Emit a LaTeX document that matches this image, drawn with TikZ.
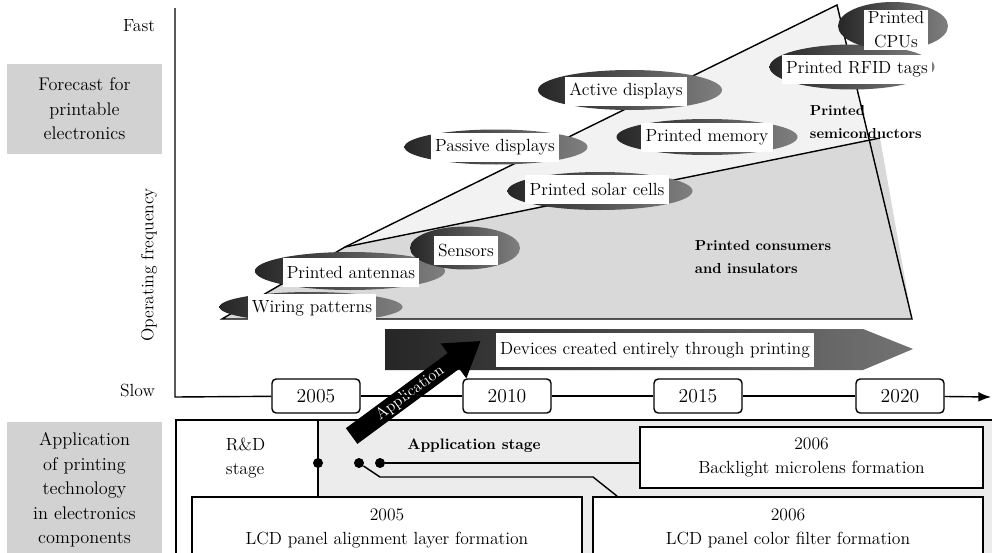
\documentclass[tikz,border=0pt]{standalone}
\usepackage{tikz}
\usetikzlibrary{shapes,arrows,arrows.meta,positioning,calc}
\newcommand{\pxu}{0.025cm}
\tikzstyle{every node}=[font=\fontsize{12.5}{17}\selectfont]
\tikzstyle{blob} = [ellipse, left color=black!85, right color=black!50, inner sep=0pt]
\tikzstyle{txtbox} = [rectangle, fill=white, inner xsep=3pt, inner ysep=2pt, minimum height=29*\pxu]
\tikzstyle{yearbox} = [rectangle, draw, line width=1pt, rounded corners=3pt, fill=white,
    minimum width=88*\pxu, minimum height=34*\pxu, font=\fontsize{14}{17}\selectfont]
\tikzstyle{sidebox} = [rectangle, fill=gray!35, align=center, minimum width=155*\pxu,
    font=\fontsize{13}{17.5}\selectfont]
\tikzstyle{usebox} = [rectangle, draw, line width=1pt, fill=white, align=center]
\tikzstyle{joint} = [circle, fill=black, inner sep=0pt, minimum size=10*\pxu]
\tikzstyle{heavy} = [font=\bfseries\fontsize{10.3}{17}\selectfont, align=left, anchor=west]
\tikzstyle{line} = [draw, line width=1pt, -{Latex[length=9pt,width=7pt]}]

\begin{document}
\begin{tikzpicture}[x=0.025cm, y=-0.025cm]
	\useasboundingbox (0,0) rectangle (992,552);
	\clip (0,0) rectangle (992,552);
	% Forecast area
	\fill [gray!10] (222,319) -- (345,247) -- (837,5) -- (912,319) -- cycle;
	\fill [gray!30] (345,247) -- (880,138) -- (912,319) -- (222,319) -- cycle;
	\draw [line width=1pt] (222,319) -- (345,247) -- (837,5) -- (912,319) -- cycle;
	\draw [line width=1pt] (345,247) -- (880,138);

	% Place nodes
	\node [blob, minimum width=165*\pxu, minimum height=45*\pxu] (rfid-e) at (852,67) {};
	\node [blob, minimum width=110*\pxu, minimum height=48*\pxu] (cpu-e) at (893,26) {};
	\node [txtbox, align=center, inner ysep=1pt] (cpu) at (896,30) {Printed\\CPUs};
	\node [txtbox] (rfid) at (857,69) {Printed RFID tags};
	\node [blob, minimum width=184*\pxu, minimum height=40*\pxu] (active-e) at (630,90) {};
	\node [txtbox] (active) at (626,91) {Active displays};
	\node [blob, minimum width=183*\pxu, minimum height=35*\pxu] (passive-e) at (496,147) {};
	\node [txtbox] (passive) at (495,147) {Passive displays};
	\node [blob, minimum width=181*\pxu, minimum height=36*\pxu] (memory-e) at (707,137) {};
	\node [txtbox] (memory) at (707,137) {Printed memory};
	\node [blob, minimum width=185*\pxu, minimum height=38*\pxu] (solar-e) at (600,191) {};
	\node [txtbox] (solar) at (597,189) {Printed solar cells};
	\node [blob, minimum width=190*\pxu, minimum height=38*\pxu] (antenna-e) at (350,271) {};
	\node [blob, minimum width=110*\pxu, minimum height=43*\pxu] (sensor-e) at (465,248) {};
	\node [txtbox] (sensor) at (466,250) {Sensors};
	\node [txtbox] (antenna) at (351,272) {Printed antennas};
	\node [blob, minimum width=183*\pxu, minimum height=30*\pxu] (wiring-e) at (311,307) {};
	\node [txtbox] (wiring) at (312,308) {Wiring patterns};

	\node [heavy] (semi) at (805,122) {Printed\\semiconductors};
	\node [heavy] (cons) at (690,257) {Printed consumers\\and insulators};

	% Devices band
	\shade [left color=black!85, right color=black!55] (385,329) -- (863,329) -- (913,349) -- (863,370) -- (385,370) -- cycle;
	\node [txtbox, minimum width=316*\pxu, minimum height=34*\pxu] (devices) at (655,350) {Devices created entirely through printing};

	% Axes and timeline
	\coordinate (ytop) at (175,8);
	\coordinate (origin) at (175,397);
	\coordinate (xend) at (991,397);
	\node [anchor=east] (fast) at (160,26) {Fast};
	\node [anchor=east] (slow) at (160,390) {Slow};
	\node [rotate=90] (freq) at (149,265) {Operating frequency};
	\node [sidebox, minimum height=90*\pxu] (forecast) at (84.5,109) {Forecast for\\printable\\electronics};

	\node [yearbox] (y2005) at (316,396) {2005};
	\node [yearbox] (y2010) at (507,396) {2010};
	\node [yearbox] (y2015) at (698,396) {2015};
	\node [yearbox] (y2020) at (900,396) {2020};

	% Lower part
	\fill [gray!15] (318,420) rectangle (992,560);
	\draw [line width=1pt] (176,560) -- (176,420) -- (992,420);
	\draw [line width=1pt] (318,420) -- (318,497);
	\node [sidebox, minimum height=136*\pxu] (apply) at (84.5,490) {Application\\of printing\\technology\\in electronics\\components};
	\node [align=left, anchor=west] (rnd) at (221,458) {R\&D\\stage};
	\node [heavy, anchor=center, font=\bfseries\fontsize{10.8}{17}\selectfont] (stage) at (474,446) {Application stage};
	\node [usebox, minimum width=343*\pxu, minimum height=61*\pxu] (backlight) at (811.5,457.5) {2006\\Backlight microlens formation};
	\node [usebox, minimum width=390*\pxu, minimum height=63*\pxu] (align) at (387,528.5) {2005\\LCD panel alignment layer formation};
	\node [usebox, minimum width=390*\pxu, minimum height=63*\pxu] (filter) at (788,528.5) {2006\\LCD panel color filter formation};
	\node [joint] (d1) at (318,463) {};
	\node [joint] (d2) at (359,463) {};
	\node [joint] (d3) at (380,463) {};

	\node [single arrow, fill=black, text=white, rotate=36.4, minimum height=160*\pxu,
	    single arrow head extend=12*\pxu, single arrow tip angle=66, inner ysep=1.5pt,
	    font=\fontsize{11.5}{12}\selectfont] (app) at (410,393) {Application};

	% Draw edges
	\draw [line width=1pt] (ytop) -- (origin) -- (y2005);
	\draw [line width=1pt] (y2005) -- (y2010);
	\draw [line width=1pt] (y2010) -- (y2015);
	\draw [line width=1pt] (y2015) -- (y2020);
	\path [line] (y2020) -- (xend);
	\draw [line width=1pt] (d3) -- (d3 -| backlight.west);
	\draw [line width=1pt] (d2) -- ++(21,14) -- ++(213,0) -- ([xshift=0.625cm]filter.north west);
\end{tikzpicture}
\end{document}
